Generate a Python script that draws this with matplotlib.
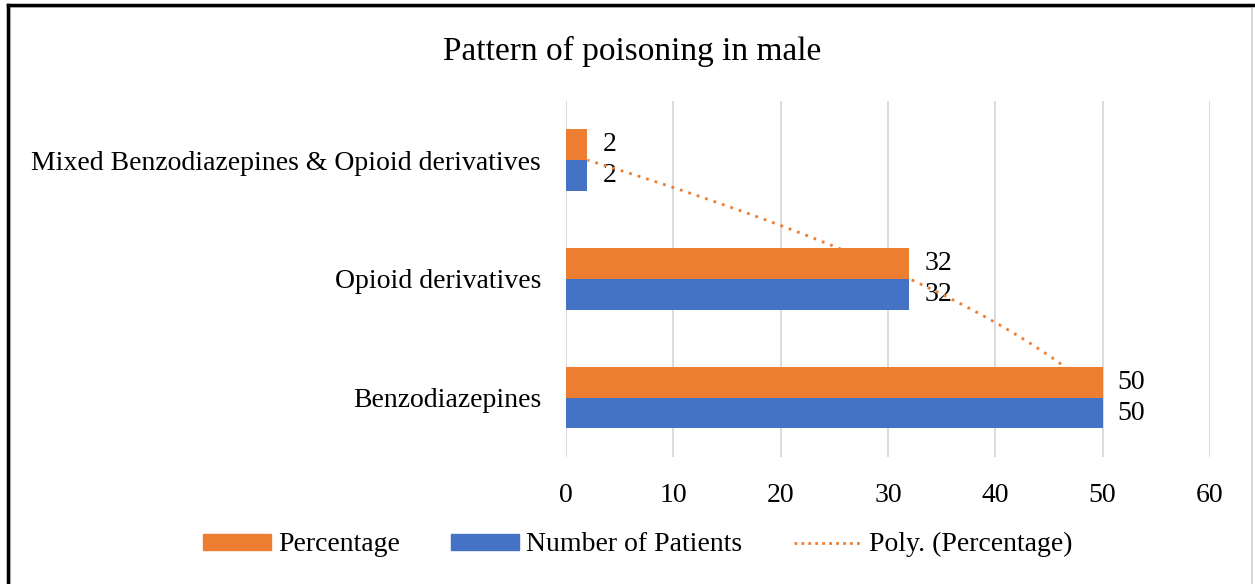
import numpy as np
import matplotlib.pyplot as plt
from matplotlib.lines import Line2D
from matplotlib.patches import Rectangle

plt.rcParams['font.family'] = ['Liberation Serif', 'DejaVu Serif']

categories = ['Benzodiazepines', 'Opioid derivatives', 'Mixed Benzodiazepines & Opioid derivatives']
percentage = [50, 32, 2]
patients = [50, 32, 2]
xticks = [0, 10, 20, 30, 40, 50, 60]

orange = '#ED7D31'
blue = '#4472C4'

fig = plt.figure(figsize=(12.55, 5.84), dpi=100)
ax = fig.add_axes([0.451, 0.2175, 0.513, 0.61])

y = np.arange(len(categories))
h = 0.26
ax.barh(y + h / 2, percentage, height=h, color=orange, label='Percentage', zorder=3)
ax.barh(y - h / 2, patients, height=h, color=blue, label='Number of Patients', zorder=3)

for yi, v in zip(y, percentage):
    ax.text(v + 1.4, yi + h / 2, str(v), va='center', ha='left', fontsize=20, zorder=4)
for yi, v in zip(y, patients):
    ax.text(v + 1.4, yi - h / 2, str(v), va='center', ha='left', fontsize=20, zorder=4)

# polynomial (order 2) trendline of Percentage over category index
coef = np.polyfit(y + 1, percentage, 2)
t = np.linspace(1, len(categories), 100)
ax.plot(np.polyval(coef, t), t - 1, color=orange, linestyle=(0, (1, 2.2)), linewidth=2, zorder=4)

ax.set_xlim(0, 60)
ax.set_ylim(-0.5, 2.5)
ax.set_xticks(xticks)
ax.set_yticks(y)
ax.set_yticklabels(categories)
ax.tick_params(length=0, labelsize=20)
ax.tick_params(axis='x', pad=19)
ax.tick_params(axis='y', pad=18)
ax.grid(axis='x', color='#D9D9D9', linewidth=1.3, zorder=0)
for s in ax.spines.values():
    s.set_visible(False)

fig.text(0.5035, 0.912, 'Pattern of poisoning in male', ha='center', va='center', fontsize=24)

handles = [
    Rectangle((0, 0), 1, 1, color=orange),
    Rectangle((0, 0), 1, 1, color=blue),
    Line2D([], [], color=orange, linestyle=(0, (1, 1.5)), linewidth=2),
]
fig.legend(handles, ['Percentage', 'Number of Patients', 'Poly. (Percentage)'],
           loc='center', bbox_to_anchor=(0.508, 0.067), ncol=3, frameon=False,
           fontsize=20, handlelength=2.45, handleheight=0.5, columnspacing=1.85, handletextpad=0.25)

# chart border
fig.add_artist(Rectangle((0.008, -0.01), 0.99, 0.998, transform=fig.transFigure,
                         fill=False, edgecolor='#D9D9D9', linewidth=1.5))
fig.add_artist(Line2D([0.006, 0.006], [0, 0.992], transform=fig.transFigure, color='black', linewidth=2.5))
fig.add_artist(Line2D([0.006, 1], [0.992, 0.992], transform=fig.transFigure, color='black', linewidth=2.5))

fig.savefig('out.png', dpi=100)
plt.close()
